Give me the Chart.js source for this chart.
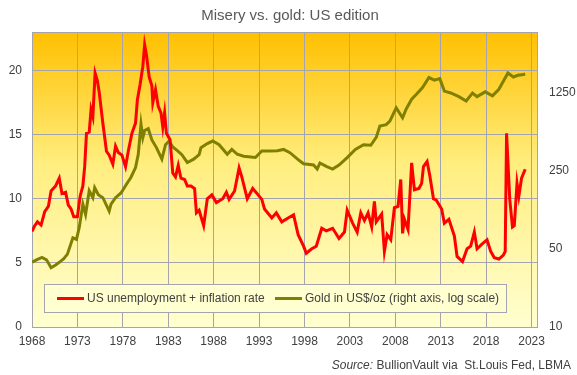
<!DOCTYPE html>
<html>
<head>
<meta charset="utf-8">
<script src="https://cdn.jsdelivr.net/npm/chart.js@4"></script>
<style>
  html, body { margin: 0; padding: 0; background: #fff; }
  #chart { display: block; }
</style>
</head>
<body>
<canvas id="chart" width="577" height="375"></canvas>
<script>
// misery index = unemployment + CPI inflation
const miseryYears = [
  1968.0, 1968.3, 1968.6, 1969.0, 1969.4, 1969.8, 1970.1, 1970.6, 1971.0, 1971.3,
  1971.7, 1972.0, 1972.3, 1972.6, 1973.0, 1973.3, 1973.6, 1973.8, 1974.0, 1974.3,
  1974.5, 1974.7, 1974.95, 1975.2, 1975.4, 1975.8, 1976.2, 1976.5, 1976.9, 1977.2,
  1977.5, 1977.9, 1978.3, 1978.6, 1979.0, 1979.4, 1979.6, 1979.9, 1980.2, 1980.4,
  1980.6, 1980.9, 1981.2, 1981.3, 1981.6, 1981.9, 1982.2, 1982.4, 1982.6, 1982.8,
  1983.2, 1983.5, 1983.8, 1984.1, 1984.4, 1984.8, 1985.1, 1985.5, 1985.9, 1986.1,
  1986.4, 1986.9, 1987.3, 1987.8, 1988.3, 1989.0, 1989.4, 1989.7, 1990.3, 1990.8,
  1991.1, 1991.7, 1992.3, 1992.9, 1993.3, 1993.6, 1994.4, 1994.9, 1995.5, 1996.2,
  1996.8, 1997.3, 1997.9, 1998.2, 1998.8, 1999.3, 1999.9, 2000.4, 2001.1, 2001.8,
  2002.4, 2002.7, 2003.3, 2003.8, 2004.2, 2004.6, 2005.0, 2005.4, 2005.7, 2005.9,
  2006.5, 2006.8, 2007.1, 2007.5, 2007.9, 2008.3, 2008.6, 2008.8, 2009.0, 2009.4,
  2009.8, 2010.1, 2010.6, 2010.9, 2011.1, 2011.5, 2011.8, 2012.2, 2012.5, 2013.1,
  2013.4, 2013.9, 2014.5, 2014.8, 2015.4, 2015.9, 2016.3, 2016.7, 2017.0, 2017.6,
  2018.1, 2018.5, 2018.9, 2019.4, 2019.9, 2020.1, 2020.25, 2020.6, 2020.9, 2021.1,
  2021.4, 2021.6, 2021.9, 2022.3
];
const miseryValues = [
  7.45, 7.9, 8.2, 7.95, 9.0, 9.4, 10.6, 11.0, 11.6, 10.4,
  10.5, 9.5, 9.2, 8.6, 8.6, 10.2, 11.0, 12.5, 15.1, 15.2,
  16.95, 16.4, 19.8, 19.2, 18.3, 15.9, 13.7, 13.4, 12.7, 14.1,
  13.6, 13.4, 12.5, 13.7, 15.1, 15.9, 17.7, 18.9, 20.3, 22.0,
  21.2, 19.5, 18.8, 17.5, 18.5, 17.2, 16.7, 15.6, 16.7, 15.1,
  14.6, 12.0, 11.7, 12.6, 11.6, 11.5, 11.0, 11.0, 10.8, 8.9,
  9.1, 7.9, 10.0, 10.3, 9.7, 10.0, 10.5, 9.95, 10.6, 12.4,
  11.7, 10.0, 10.8, 10.3, 9.95, 9.2, 8.5, 8.9, 8.2, 8.5,
  8.75, 7.2, 6.3, 5.75, 6.1, 6.3, 7.7, 7.5, 7.7, 6.9,
  7.4, 9.1, 8.1, 7.4, 8.9, 8.3, 8.9, 7.8, 9.8, 8.2,
  8.8, 5.9, 7.2, 6.8, 9.3, 9.4, 11.5, 7.3, 8.4, 7.6,
  12.8, 10.7, 10.8, 11.2, 12.5, 12.9, 11.8, 10.0, 9.9, 9.2,
  8.1, 8.4, 7.1, 5.5, 5.1, 6.1, 6.3, 7.4, 6.1, 6.5,
  6.8, 5.9, 5.4, 5.3, 5.6, 5.9, 15.1, 9.95, 7.8, 7.9,
  11.2, 10.2, 11.6, 12.3
];

// gold, US$ per ounce (right axis, log)
const goldYears = [
  1968.0, 1968.5, 1969.1, 1969.6, 1970.1, 1970.6, 1971.0, 1971.5, 1971.9, 1972.5,
  1972.9, 1973.2, 1973.6, 1973.9, 1974.3, 1974.7, 1974.9, 1975.3, 1975.8, 1976.5,
  1976.7, 1977.2, 1977.8, 1978.4, 1978.9, 1979.4, 1979.7, 1980.0, 1980.2, 1980.4,
  1980.8, 1981.2, 1981.7, 1982.3, 1982.7, 1983.1, 1983.5, 1984.0, 1984.5, 1985.1,
  1985.8, 1986.4, 1986.6, 1987.3, 1987.9, 1988.6, 1989.5, 1990.0, 1990.6, 1991.3,
  1992.6, 1993.3, 1994.2, 1995.0, 1995.7, 1996.4, 1997.5, 1997.9, 1999.0, 1999.4,
  1999.7, 2000.4, 2001.1, 2001.8, 2002.7, 2003.6, 2004.5, 2005.3, 2005.9, 2006.3,
  2007.0, 2007.4, 2008.1, 2008.8, 2009.2, 2009.8, 2010.3, 2011.0, 2011.7, 2012.3,
  2012.9, 2013.4, 2014.1, 2015.0, 2015.8, 2016.5, 2017.0, 2017.9, 2018.7, 2019.4,
  2020.4, 2021.0, 2021.5, 2022.1, 2022.3
];
const goldValues = [
  38, 40, 42, 40, 34, 36, 38, 41, 45, 63,
  61, 78, 126, 102, 166, 144, 177, 153, 144, 109,
  126, 144, 159, 190, 220, 268, 353, 656, 497, 576,
  600, 475, 405, 319, 430, 464, 410, 380, 350, 298,
  319, 350, 405, 440, 464, 430, 353, 390, 353, 339,
  330, 378, 378, 380, 390, 365, 307, 290, 283, 260,
  295, 275, 260, 283, 330, 390, 430, 425, 500, 633,
  650, 700, 920, 750, 900, 1100, 1210, 1400, 1720, 1630,
  1680, 1300, 1250, 1160, 1060, 1250, 1160, 1280, 1180, 1350,
  1890, 1740, 1800, 1830, 1850
];

const yearTicks = [1968, 1973, 1978, 1983, 1988, 1993, 1998, 2003, 2008, 2013, 2018, 2023];
const leftTicks = [0, 5, 10, 15, 20];
const rightTicks = [10, 50, 250, 1250];

const seriesNames = ["US unemployment + inflation rate", "Gold in US$/oz (right axis, log scale)"];
const seriesColors = ["#ff0000", "#808000"];

const FONT = "'Liberation Sans', Arial, sans-serif";
const GRID = "#a4a4ae";
Chart.defaults.font.family = FONT;
Chart.defaults.font.size = 12;
Chart.defaults.color = "#404040";

const decor = {
  id: "decor",
  beforeDraw(chart) {
    const { ctx, chartArea: a } = chart;
    ctx.save();
    ctx.fillStyle = "#ffffff";
    ctx.fillRect(0, 0, chart.width, chart.height);
    const g = ctx.createLinearGradient(0, a.top, 0, a.bottom);
    g.addColorStop(0, "#ffc000");
    g.addColorStop(0.45, "#ffee80");
    g.addColorStop(1, "#ffffd0");
    ctx.fillStyle = g;
    ctx.fillRect(a.left, a.top, a.right - a.left, a.bottom - a.top);
    ctx.restore();
  },
  beforeDatasetsDraw(chart) {
    const { ctx, chartArea: a } = chart;
    ctx.save();
    ctx.strokeStyle = GRID;
    ctx.lineWidth = 1;
    ctx.strokeRect(Math.round(a.left) + 0.5, Math.round(a.top) + 0.5,
      Math.round(a.right - a.left), Math.round(a.bottom - a.top));
    ctx.restore();
  },
  afterDraw(chart) {
    const ctx = chart.ctx;
    ctx.save();
    // title
    ctx.fillStyle = "#595959";
    ctx.font = "15px " + FONT;
    ctx.textAlign = "center";
    ctx.textBaseline = "middle";
    ctx.fillText("Misery vs. gold: US edition", 290, 16);

    // legend box
    ctx.fillStyle = "#ffffd0";
    ctx.fillRect(44.5, 284.5, 462, 28);
    ctx.strokeStyle = GRID;
    ctx.lineWidth = 1;
    ctx.strokeRect(44.5, 284.5, 462, 28);
    const items = [
      { x1: 57, x2: 84, tx: 87 },
      { x1: 275, x2: 302, tx: 305 }
    ];
    ctx.font = "12px " + FONT;
    ctx.textAlign = "left";
    items.forEach((it, i) => {
      ctx.strokeStyle = seriesColors[i];
      ctx.lineWidth = 3;
      ctx.beginPath();
      ctx.moveTo(it.x1, 298.5);
      ctx.lineTo(it.x2, 298.5);
      ctx.stroke();
      ctx.fillStyle = "#404040";
      ctx.fillText(seriesNames[i], it.tx, 298.5);
    });

    // source line
    ctx.textAlign = "right";
    ctx.fillStyle = "#404040";
    const rest = " BullionVault via  St.Louis Fed, LBMA";
    ctx.font = "12px " + FONT;
    const wRest = ctx.measureText(rest).width;
    ctx.fillText(rest, 571, 366);
    ctx.font = "italic 12px " + FONT;
    ctx.fillText("Source:", 571 - wRest, 366);
    ctx.restore();
  }
};

new Chart(document.getElementById("chart"), {
  type: "line",
  data: {
    datasets: [
      {
        label: seriesNames[0],
        data: miseryYears.map((y, i) => ({ x: y, y: miseryValues[i] })),
        borderColor: seriesColors[0],
        borderWidth: 3,
        pointRadius: 0,
        tension: 0,
        yAxisID: "y"
      },
      {
        label: seriesNames[1],
        data: goldYears.map((y, i) => ({ x: y, y: goldValues[i] })),
        borderColor: seriesColors[1],
        borderWidth: 3,
        pointRadius: 0,
        tension: 0,
        yAxisID: "y2"
      }
    ]
  },
  options: {
    responsive: false,
    animation: false,
    layout: { padding: { top: 32, left: 0, right: 0, bottom: 0 } },
    plugins: {
      legend: { display: false },
      title: { display: false },
      tooltip: { enabled: false }
    },
    scales: {
      x: {
        type: "linear",
        min: 1968,
        max: 2023.6,
        afterBuildTicks: (s) => { s.ticks = yearTicks.map((v) => ({ value: v })); },
        afterFit: (s) => { s.height = 48; },
        ticks: { padding: 7, maxRotation: 0, autoSkip: false, callback: (v) => String(v) },
        grid: { color: GRID, drawTicks: false },
        border: { display: false }
      },
      y: {
        position: "left",
        min: 0,
        max: 23,
        afterBuildTicks: (s) => { s.ticks = leftTicks.map((v) => ({ value: v })); },
        afterFit: (s) => { s.width = 32; },
        ticks: { padding: 10 },
        grid: { color: GRID, drawTicks: false },
        border: { display: false }
      },
      y2: {
        type: "logarithmic",
        position: "right",
        min: 10,
        max: 4400,
        afterBuildTicks: (s) => { s.ticks = rightTicks.map((v) => ({ value: v })); },
        afterFit: (s) => { s.width = 40; },
        ticks: { padding: 12, callback: (v) => String(v) },
        grid: { display: false, drawTicks: false },
        border: { display: false }
      }
    }
  },
  plugins: [decor]
});
</script>
</body>
</html>
